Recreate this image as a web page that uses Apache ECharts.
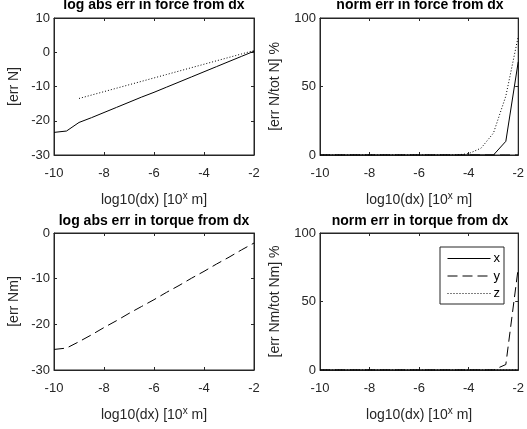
<!DOCTYPE html>
<html>
<head>
<meta charset="utf-8">
<script src="https://cdn.jsdelivr.net/npm/echarts@6/dist/echarts.min.js"></script>
<style>
  html, body { margin: 0; padding: 0; background: #fff; }
  #chart { width: 527px; height: 429px; }
</style>
</head>
<body>
<div id="chart"></div>
<script>
// Step sizes, log10(dx)
const logDx = [-10, -9.5, -9, -8.5, -8, -7.5, -7, -6.5, -6, -5.5, -5, -4.5, -4, -3.5, -3, -2.5, -2];

// log abs error in force (null = not drawn)
const forceLogX = [-23.4, -23.0, -20.5, -19.1, -17.6, -16.1, -14.6, -13.1, -11.7, -10.2, -8.7, -7.2, -5.7, -4.2, -2.7, -1.2, 0.3];
const forceLogZ = [null, null, -13.5, -12.5, -11.5, -10.5, -9.5, -8.5, -7.5, -6.5, -5.5, -4.5, -3.5, -2.5, -1.5, -0.5, 0.5];

// normalised force error, %
const forceNormX = [0, 0, 0, 0, 0, 0, 0, 0, 0, 0, 0, 0, 0, 0, 0, 10, 68];
const forceNormY = [0, 0, 0, 0, 0, 0, 0, 0, 0, 0, 0, 0, 0, 0, 0, 0, 0];
const forceNormZ = [0, 0, 0, 0, 0, 0, 0, 0, 0, 0, 0, 0, 1, 5, 16, 43, 86.5];

// log abs error in torque
const torqueLogY = [-25.5, -25.2, -23.8, -22.3, -20.7, -19.2, -17.6, -16.1, -14.6, -13.0, -11.5, -9.9, -8.4, -6.8, -5.3, -3.7, -2.2];

// normalised torque error, %
const torqueNormX = [0, 0, 0, 0, 0, 0, 0, 0, 0, 0, 0, 0, 0, 0, 0, 0, 0];
const torqueNormY = [0, 0, 0, 0, 0, 0, 0, 0, 0, 0, 0, 0, 0, 0, 0, 4, 74.5];
const torqueNormZ = [0, 0, 0, 0, 0, 0, 0, 0, 0, 0, 0, 0, 0, 0, 0, 0, 0];

const titles = ['log abs err in force from dx', 'norm err in force from dx',
                'log abs err in torque from dx', 'norm err in torque from dx'];
const yNames = ['[err N]', '[err N/tot N] %', '[err Nm]', '[err Nm/tot Nm] %'];
const yRanges = [[-30, 10, 10], [0, 100, 50], [-30, 0, 10], [0, 100, 50]];

const AXIS = '#262626';
const FONT = '"Liberation Sans", Arial, sans-serif';

const grids = [
  { left: 54, top: 18, width: 200, height: 137 },
  { left: 320, top: 18, width: 200, height: 137 },
  { left: 54, top: 233, width: 200, height: 137 },
  { left: 320, top: 233, width: 200, height: 137 }
];

const pairs = vals => logDx.map((x, i) => [x, vals[i]]);

const boxLine = { show: true, onZero: false, lineStyle: { color: AXIS, width: 1 } };
const boxTick = { show: true, inside: true, length: 3, lineStyle: { color: AXIS } };

const xAxes = [];
const yAxes = [];
grids.forEach((g, i) => {
  xAxes.push({
    type: 'value', gridIndex: i, min: -10, max: -2, interval: 2,
    position: 'bottom',
    axisLine: boxLine, axisTick: boxTick,
    splitLine: { show: false },
    axisLabel: { color: AXIS, fontSize: 13, fontFamily: FONT, margin: 12 },
    name: '{a|log10(dx) [10}{s|x}{a| m]}',
    nameLocation: 'middle', nameGap: 36,
    nameTextStyle: {
      rich: {
        a: { fontSize: 14, fontFamily: FONT, color: AXIS },
        s: { fontSize: 10, fontFamily: FONT, color: AXIS, verticalAlign: 'top', padding: [0, 0, 8, 0] }
      }
    }
  });
  yAxes.push({
    type: 'value', gridIndex: i,
    min: yRanges[i][0], max: yRanges[i][1], interval: yRanges[i][2],
    position: 'left',
    axisLine: boxLine, axisTick: boxTick,
    splitLine: { show: false },
    axisLabel: { color: AXIS, fontSize: 13, fontFamily: FONT, margin: 4 },
    name: yNames[i], nameLocation: 'middle', nameRotate: 90,
    nameGap: i % 2 === 0 ? 33 : 38,
    nameTextStyle: { fontSize: 14, fontFamily: FONT, color: AXIS }
  });
});
// mirrored box ticks on top and right edges
grids.forEach((g, i) => {
  xAxes.push({
    type: 'value', gridIndex: i, min: -10, max: -2, interval: 2, position: 'top',
    axisLine: boxLine, axisTick: boxTick,
    axisLabel: { show: false }, splitLine: { show: false }
  });
  yAxes.push({
    type: 'value', gridIndex: i,
    min: yRanges[i][0], max: yRanges[i][1], interval: yRanges[i][2], position: 'right',
    axisLine: boxLine, axisTick: boxTick,
    axisLabel: { show: false }, splitLine: { show: false }
  });
});

const STYLE = {
  x: { type: 'solid' },
  y: { type: [10, 5] },
  z: { type: [1, 2] }
};

function line(name, grid, vals) {
  return {
    name, type: 'line', xAxisIndex: grid, yAxisIndex: grid,
    data: pairs(vals), symbol: 'none', showSymbol: false,
    connectNulls: false, animation: false, silent: true,
    lineStyle: { color: '#000', width: 1, type: STYLE[name].type },
    itemStyle: { color: '#000' }
  };
}

const series = [
  line('x', 0, forceLogX),
  line('z', 0, forceLogZ),
  line('y', 1, forceNormY),
  line('x', 1, forceNormX),
  line('z', 1, forceNormZ),
  line('y', 2, torqueLogY),
  line('x', 3, torqueNormX),
  line('z', 3, torqueNormZ),
  line('y', 3, torqueNormY)
];

const titleComps = titles.map((t, i) => ({
  text: t,
  left: grids[i].left + grids[i].width / 2,
  textAlign: 'center',
  top: i < 2 ? -2 : 214,
  padding: 0,
  textStyle: { fontSize: 14, fontWeight: 'bold', fontFamily: FONT, color: '#000' }
}));

const chart = echarts.init(document.getElementById('chart'), null, { renderer: 'canvas' });
chart.setOption({
  backgroundColor: '#fff',
  animation: false,
  title: titleComps,
  grid: grids.map(g => Object.assign({ show: true, borderColor: AXIS, borderWidth: 1, backgroundColor: '#fff' }, g)),
  xAxis: xAxes,
  yAxis: yAxes,
  legend: {
    data: ['x', 'y', 'z'],
    orient: 'vertical',
    left: 440, top: 247,
    padding: [5, 4, 4, 7],
    itemWidth: 43, itemHeight: 14, itemGap: 4.5,
    backgroundColor: '#fff',
    borderColor: AXIS, borderWidth: 1,
    selectedMode: false,
    itemStyle: { color: 'rgba(0,0,0,0)', borderColor: 'rgba(0,0,0,0)', borderWidth: 0 },
    lineStyle: { width: 1 },
    textStyle: { fontSize: 13, fontFamily: FONT, color: '#000', padding: [0, 0, 0, -2] }
  },
  series
});
</script>
</body>
</html>
